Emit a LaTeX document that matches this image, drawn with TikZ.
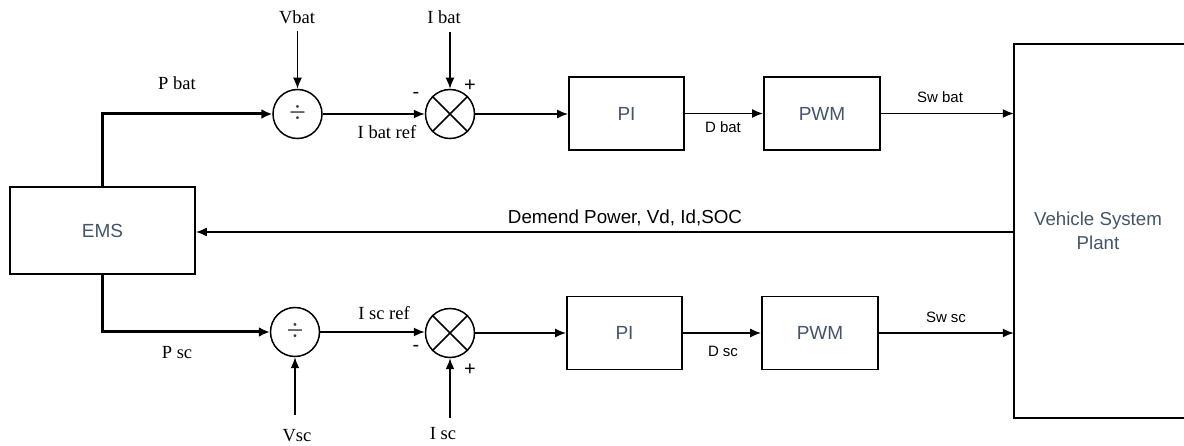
\documentclass[tikz,border=0pt]{standalone}
\usepackage{fontspec}
\setmainfont{Liberation Serif}
\setsansfont{Liberation Sans}
\usetikzlibrary{arrows.meta}
\definecolor{boxtxt}{RGB}{68,84,106}
\definecolor{divgray}{RGB}{60,60,60}
\begin{document}
\begin{tikzpicture}[x=1pt,y=-1pt,
  blk/.style={draw,line width=1.8pt,minimum width=115pt,minimum height=73pt,inner sep=0pt,
    font=\sffamily\fontsize{19}{22}\selectfont,text=boxtxt},
  circ/.style={draw,circle,line width=1.5pt,minimum size=49pt,inner sep=0pt},
  sig/.style={line width=1.6pt,-{Latex[length=11pt,width=9pt]}},
  thicksig/.style={line width=3pt,-{Latex[length=11pt,width=10pt]}},
  slab/.style={font=\fontsize{18.5}{21}\selectfont,inner sep=0pt},
  ssl/.style={font=\sffamily\fontsize{15}{17}\selectfont,inner sep=0pt},
  sgn/.style={font=\sffamily\fontsize{20}{22}\selectfont,inner sep=0pt},
  divsym/.style={font=\fontsize{30}{30}\selectfont,text=divgray}
]
\useasboundingbox (0,0) rectangle (1184,446);
\clip (0,0) rectangle (1184,446);

% blocks
\node[blk,minimum width=185pt,minimum height=87pt] (ems) at (102.5,230.5) {EMS};
\node[blk] (pi1) at (626.5,113.5) {PI};
\node[blk,minimum width=116pt] (pwm1) at (822,113.5) {PWM};
\node[blk] (pi2) at (624.5,333) {PI};
\node[blk,minimum width=116pt] (pwm2) at (820,333) {PWM};

% vehicle plant (right side cut off)
\node[minimum width=186pt,minimum height=374pt,inner sep=0pt] (veh) at (1107,231) {};
\draw[line width=1.8pt] (veh.north east) -- (veh.north west) -- (veh.south west) -- (veh.south east);
\node[align=center,font=\sffamily\fontsize{18.7}{23.5}\selectfont,text=boxtxt] (vehtxt) at (1098,231) {Vehicle System\\Plant};

% circles
\node[circ,divsym] (div1) at (297.5,114) {÷};
\node[circ] (mul1) at (450,114) {};
\node[circ,divsym] (div2) at (295,332) {÷};
\node[circ] (mul2) at (450,333) {};
\draw[line width=1.5pt] (mul1.north west) -- (mul1.south east) (mul1.north east) -- (mul1.south west);
\draw[line width=1.5pt] (mul2.north west) -- (mul2.south east) (mul2.north east) -- (mul2.south west);

% input labels
\node[slab] (vbat) at (297,17) {Vbat};
\node[slab] (ibat) at (444,17) {I bat};
\node[slab] (vsc) at (297,436) {Vsc};
\node[slab] (isc) at (443,434) {I sc};
\coordinate (vbatin) at (297.5,31);
\coordinate (ibatin) at (450,32);
\coordinate (vscin) at (295,415);
\coordinate (iscin) at (450,418);

% EMS outputs
\draw[thicksig] (ems.north) |- (div1.west);
\draw[thicksig] (ems.south) |- (div2.west);

% top row
\draw[sig] (vbatin) -- (div1.north);
\draw[sig] (ibatin) -- (mul1.north);
\draw[sig] (div1.east) -- (mul1.west);
\draw[sig] (mul1.east) -- (mul1.east -| pi1.west);
\draw[sig] (pi1.east) -- (pwm1.west);
\draw[sig] (pwm1.east) -- (pwm1.east -| veh.west);

% bottom row
\draw[sig] (vscin) -- (div2.south);
\draw[sig] (iscin) -- (mul2.south);
\draw[sig] (div2.east) -- (div2.east -| mul2.west);
\draw[sig] (mul2.east) -- (pi2.west);
\draw[sig] (pi2.east) -- (pwm2.west);
\draw[sig] (pwm2.east) -- (pwm2.east -| veh.west);

% feedback
\draw[sig] (veh.west |- 0,232) -- (ems.east |- 0,232);

% labels
\node[slab] (pbatl) at (177,83) {P bat};
\node[slab] (ibatref) at (387,132) {I bat ref};
\node[slab] (pscl) at (177,353) {P sc};
\node[slab] (iscref) at (384,313) {I sc ref};
\node[sgn] (m1) at (416,95) {-};
\node[sgn] (p1) at (470,86) {+};
\node[sgn] (m2) at (416,348) {-};
\node[sgn] (p2) at (470,370) {+};
\node[ssl] (dbat) at (723,127) {D bat};
\node[ssl] (swbat) at (940,97) {Sw bat};
\node[ssl] (dsc) at (723,351) {D sc};
\node[ssl] (swsc) at (946,317) {Sw sc};
\node[font=\sffamily\fontsize{18.8}{21}\selectfont,inner sep=0pt] (dem) at (625,218) {Demend Power, Vd, Id,SOC};
\end{tikzpicture}
\end{document}
